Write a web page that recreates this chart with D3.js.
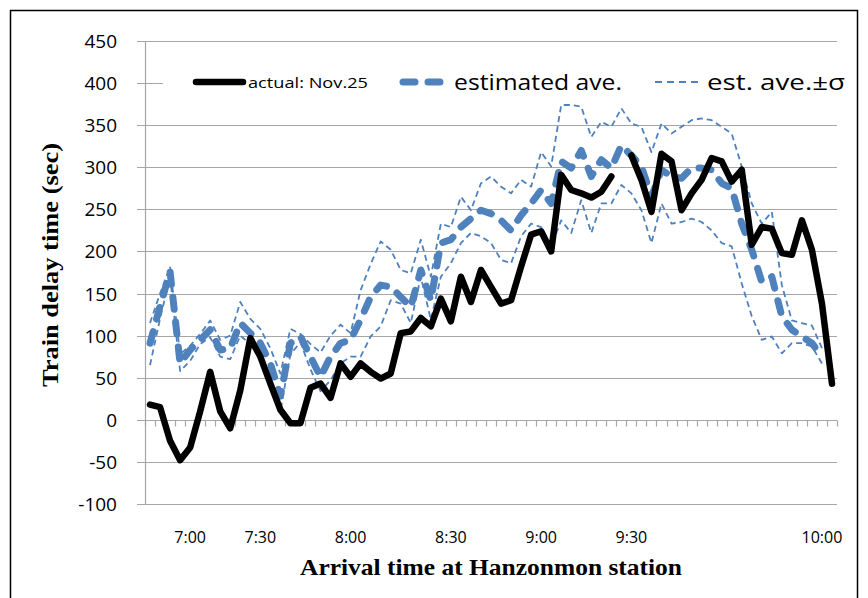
<!DOCTYPE html>
<html>
<head>
<meta charset="utf-8">
<script src="https://cdn.jsdelivr.net/npm/d3@7"></script>
<style>
  body { margin: 0; background: #fff; }
  svg { display: block; }
</style>
</head>
<body>
<div id="chart"></div>
<script>
// one value per train, in arrival order (sec); null = no record
const actual = [18, 15, -25, -48, -33, 10, 57, 10, -10, 35,
  97, 75, 43, 12, -4, -4, 38, 43, 26, 67,
  51, 67, 57, 49, 55, 103, 105, 121, 111, 144,
  117, 170, 140, 178, 158, 138, 142, 182, 220, 224,
  200, 291, 273, 269, 264, 271, 289, null, 314, 285,
  247, 316, 307, 249, 269, 285, 311, 307, 283, 297,
  208, 229, 227, 198, 196, 237, 202, 138, 43];

const estAve = [91, 135, 176, 67, 83, 95, 107, 83, 85, 115,
  103, 91, 67, 28, 91, 99, 75, 51, 75, 91,
  95, 119, 146, 160, 158, 146, 134, 178, 142, 210,
  214, 229, 239, 249, 245, 237, 225, 243, 257, 273,
  257, 307, 299, 320, 289, 309, 299, 326, 314, 301,
  265, 297, 289, 287, 299, 299, 297, 281, 275, 233,
  202, 164, 170, 123, 107, 99, 91, 75, null];

const estUpper = [115, 150, 182, 78, 88, 102, 118, 95, 100, 140,
  120, 108, 85, 55, 108, 102, 90, 80, 100, 113,
  103, 154, 185, 212, 202, 178, 174, 214, 170, 233,
  229, 265, 249, 281, 289, 277, 269, 285, 277, 318,
  301, 374, 374, 372, 336, 354, 348, 370, 352, 348,
  318, 352, 340, 348, 356, 358, 356, 348, 340, 301,
  257, 233, 247, 160, 118, 115, 112, 85, null];

const estLower = [65, 120, 170, 58, 70, 90, 98, 75, 72, 100,
  90, 78, 50, 10, 78, 92, 60, 34, 47, 67,
  75, 75, 99, 111, 142, 138, 115, 170, 119, 170,
  186, 210, 222, 218, 210, 190, 186, 218, 233, 229,
  206, 237, 222, 261, 222, 257, 257, 279, 269, 249,
  210, 257, 233, 235, 239, 235, 225, 210, 206, 162,
  123, 95, 99, 79, 91, 91, 87, 67, null];

// only a few trains carry a time label
const timeLabels = {4: "7:00", 11: "7:30", 20: "8:00", 30: "8:30", 39: "9:00", 48: "9:30", 67: "10:00"};
const yTicks = [-100, -50, 0, 50, 100, 150, 200, 250, 300, 350, 400, 450];

const BLUE = "#4F81BD";
const GRID = "#A6A6A6";

const width = 868, height = 598;
const plot = {left: 145, right: 837, top: 41, bottom: 504};

const svg = d3.select("#chart").append("svg")
  .attr("width", width)
  .attr("height", height);

svg.append("rect")
  .attr("x", 10.5).attr("y", 10.5)
  .attr("width", 847).attr("height", 620)
  .attr("fill", "#fff")
  .attr("stroke", "#000")
  .attr("stroke-width", 1.5);

const idx = d3.range(actual.length);

const x = d3.scaleBand()
  .domain(idx)
  .range([plot.left, plot.right])
  .paddingInner(0).paddingOuter(0);

const y = d3.scaleLinear()
  .domain([-100, 450])
  .range([plot.bottom, plot.top]);

const cx = i => x(i) + x.bandwidth() / 2;

// horizontal grid
svg.append("g")
  .selectAll("line")
  .data(yTicks)
  .join("line")
  .attr("x1", plot.left - 8).attr("x2", plot.right)
  .attr("y1", d => Math.round(y(d)) + 0.5).attr("y2", d => Math.round(y(d)) + 0.5)
  .attr("stroke", GRID)
  .attr("stroke-width", 1.2);

// value axis line
svg.append("line")
  .attr("x1", plot.left + 0.5).attr("x2", plot.left + 0.5)
  .attr("y1", plot.top).attr("y2", plot.bottom)
  .attr("stroke", GRID)
  .attr("stroke-width", 1.2);

// category axis sits on zero, ticks between trains
const zeroY = Math.round(y(0)) + 0.5;
svg.append("g")
  .selectAll("line")
  .data(d3.range(actual.length + 1))
  .join("line")
  .attr("x1", i => Math.round(i < actual.length ? x(i) : plot.right) + 0.5)
  .attr("x2", i => Math.round(i < actual.length ? x(i) : plot.right) + 0.5)
  .attr("y1", zeroY).attr("y2", zeroY + 6)
  .attr("stroke", GRID)
  .attr("stroke-width", 1.2);

// y tick labels
svg.append("g")
  .selectAll("text")
  .data(yTicks)
  .join("text")
  .attr("x", 117)
  .attr("y", d => y(d) + 7)
  .attr("text-anchor", "end")
  .attr("font-family", "Open Sans, sans-serif")
  .attr("font-size", 19)
  .attr("fill", "#000")
  .text(d => d);

// x tick labels
svg.append("g")
  .selectAll("text")
  .data(Object.keys(timeLabels).map(Number))
  .join("text")
  .attr("x", d => cx(d))
  .attr("y", 543)
  .attr("text-anchor", "middle")
  .attr("font-family", "Open Sans, sans-serif")
  .attr("font-size", 16)
  .attr("fill", "#000")
  .text(d => timeLabels[d]);

// axis titles
svg.append("text")
  .attr("x", 300).attr("y", 575)
  .attr("font-family", "Liberation Serif, Times New Roman, serif")
  .attr("font-weight", "bold")
  .attr("font-size", 23)
  .attr("textLength", 382)
  .attr("lengthAdjust", "spacingAndGlyphs")
  .text("Arrival time at Hanzonmon station");

svg.append("text")
  .attr("transform", "translate(58,265) rotate(-90)")
  .attr("text-anchor", "middle")
  .attr("font-family", "Liberation Serif, Times New Roman, serif")
  .attr("font-weight", "bold")
  .attr("font-size", 24)
  .attr("textLength", 244)
  .attr("lengthAdjust", "spacingAndGlyphs")
  .text("Train delay time (sec)");

// series
const line = d3.line()
  .defined(d => d != null)
  .x((d, i) => cx(i))
  .y(d => y(d));

const series = [
  {name: "upper", values: estUpper, color: BLUE, width: 1.8, dash: "6,4", cap: "butt"},
  {name: "lower", values: estLower, color: BLUE, width: 1.8, dash: "6,4", cap: "butt"},
  {name: "ave", values: estAve, color: BLUE, width: 7, dash: "12,13", cap: "round"},
  {name: "actual", values: actual, color: "#000", width: 6.5, dash: null, cap: "round"}
];

svg.append("g")
  .selectAll("path")
  .data(series)
  .join("path")
  .attr("fill", "none")
  .attr("stroke", d => d.color)
  .attr("stroke-width", d => d.width)
  .attr("stroke-dasharray", d => d.dash)
  .attr("stroke-linecap", d => d.cap)
  .attr("stroke-linejoin", "round")
  .attr("d", d => line(d.values));

// legend
const lg = svg.append("g");
lg.append("rect")
  .attr("x", 163).attr("y", 63)
  .attr("width", 690).attr("height", 40)
  .attr("fill", "#fff");

lg.append("line")
  .attr("x1", 196).attr("x2", 243).attr("y1", 82).attr("y2", 82)
  .attr("stroke", "#000").attr("stroke-width", 6.5).attr("stroke-linecap", "round");
lg.append("text")
  .attr("x", 248).attr("y", 88)
  .attr("font-family", "Open Sans, sans-serif").attr("font-size", 15)
  .attr("textLength", 120).attr("lengthAdjust", "spacingAndGlyphs")
  .text("actual: Nov.25");

lg.append("line")
  .attr("x1", 403).attr("x2", 451).attr("y1", 82).attr("y2", 82)
  .attr("stroke", BLUE).attr("stroke-width", 7)
  .attr("stroke-dasharray", "12,13").attr("stroke-linecap", "round");
lg.append("text")
  .attr("x", 454).attr("y", 90)
  .attr("font-family", "Open Sans, sans-serif").attr("font-size", 21)
  .attr("textLength", 168).attr("lengthAdjust", "spacingAndGlyphs")
  .text("estimated ave.");

lg.append("line")
  .attr("x1", 655).attr("x2", 702).attr("y1", 82).attr("y2", 82)
  .attr("stroke", BLUE).attr("stroke-width", 1.8)
  .attr("stroke-dasharray", "7,5");
lg.append("text")
  .attr("x", 707).attr("y", 90)
  .attr("font-family", "Open Sans, sans-serif").attr("font-size", 21)
  .attr("textLength", 138).attr("lengthAdjust", "spacingAndGlyphs")
  .text("est. ave.±σ");
</script>
</body>
</html>
